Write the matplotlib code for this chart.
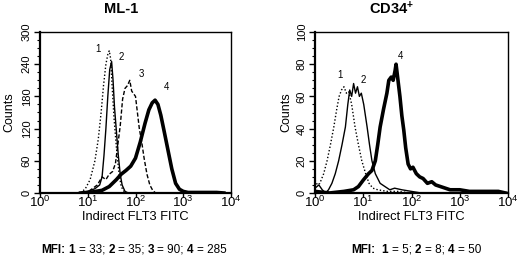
import matplotlib
matplotlib.use("Agg")
import matplotlib.pyplot as plt
from matplotlib.ticker import MultipleLocator, LogLocator, NullLocator
import numpy as np

plt.rcParams['font.family'] = ['Liberation Sans', 'DejaVu Sans']
plt.rcParams['mathtext.fontset'] = 'custom'
plt.rcParams['mathtext.rm'] = 'Liberation Sans'
plt.rcParams['mathtext.bf'] = 'Liberation Sans:bold'
plt.rcParams['mathtext.it'] = 'Liberation Sans:italic'

# ML-1 histograms (x in log10 of FLT3 FITC, y in counts)
ml1_x1 = [0.85, 0.95, 1.05, 1.15, 1.22, 1.28, 1.33, 1.38, 1.42, 1.45, 1.48, 1.51, 1.55, 1.60, 1.65, 1.70, 1.78]
ml1_y1 = [0, 8, 25, 60, 100, 150, 200, 240, 258, 265, 250, 200, 140, 85, 40, 12, 0]
ml1_x2 = [0.85, 1.0, 1.15, 1.25, 1.30, 1.34, 1.38, 1.42, 1.46, 1.50, 1.53, 1.56, 1.60, 1.64, 1.68, 1.72, 1.78, 1.85]
ml1_y2 = [0, 3, 8, 15, 30, 70, 120, 180, 230, 245, 210, 160, 115, 70, 35, 15, 3, 0]
ml1_x3 = [0.9, 1.05, 1.2, 1.3, 1.38, 1.45, 1.52, 1.58, 1.63, 1.68, 1.73, 1.78, 1.83, 1.88, 1.92, 1.96,
          2.0, 2.04, 2.08, 2.13, 2.18, 2.24, 2.30, 2.36, 2.42]
ml1_y3 = [0, 5, 15, 30, 25, 35, 40, 55, 90, 125, 175, 195, 200, 210, 190, 185,
          180, 150, 120, 95, 65, 35, 15, 5, 0]
ml1_x4 = [0.85, 1.1, 1.3, 1.45, 1.6, 1.7, 1.8, 1.9, 2.0, 2.1, 2.2, 2.28, 2.35, 2.41, 2.47, 2.53,
          2.6, 2.68, 2.76, 2.84, 2.92, 3.0, 3.1, 3.3, 3.5, 3.7, 3.85]
ml1_y4 = [0, 2, 5, 12, 25, 35, 42, 50, 65, 95, 130, 155, 168, 173, 165, 145,
          115, 80, 45, 18, 7, 3, 1, 1, 1, 1, 0]

# CD34+ histograms
cd_x1 = [0.0, 0.05, 0.1, 0.18, 0.25, 0.32, 0.39, 0.45, 0.5, 0.55, 0.6, 0.65, 0.7, 0.76, 0.83, 0.9,
         0.97, 1.05, 1.12, 1.2, 1.3, 1.5, 1.7, 2.0]
cd_y1 = [8, 5, 6, 12, 20, 30, 41, 52, 60, 64, 66, 62, 63, 55, 41, 30,
         20, 12, 6, 3, 2, 1, 1, 0]
cd_x2 = [0.0, 0.08, 0.15, 0.22, 0.28, 0.35, 0.42, 0.49, 0.56, 0.63, 0.68, 0.72, 0.76, 0.8, 0.84, 0.88,
         0.92, 0.96, 1.01, 1.05, 1.08, 1.13, 1.18, 1.25, 1.35, 1.45, 1.55, 1.65, 1.8, 2.0, 2.2]
cd_y2 = [3, 5, 2, 0, 2, 6, 12, 20, 30, 41, 55, 64, 60, 68, 62, 66,
         60, 62, 55, 47, 41, 30, 20, 12, 6, 4, 2, 3, 2, 1, 0]
cd_x4 = [0.0, 0.3, 0.6, 0.8, 0.9, 1.0, 1.11, 1.18, 1.25, 1.3, 1.35, 1.42, 1.49, 1.53, 1.58, 1.62,
         1.66, 1.68, 1.72, 1.76, 1.8, 1.84, 1.88, 1.93, 1.98, 2.03, 2.1, 2.17, 2.24, 2.33, 2.42, 2.5,
         2.6, 2.8, 3.0, 3.2, 3.5, 3.8, 3.95]
cd_y4 = [1, 0, 1, 2, 4, 8, 12, 14, 20, 30, 41, 52, 62, 70, 72, 70,
         76, 80, 70, 60, 48, 39, 28, 18, 15, 16, 12, 10, 9, 6, 7, 5,
         4, 2, 2, 1, 1, 1, 0]

# curve number labels (log10 x, counts)
ml1_labels = [("1", 1.22, 268), ("2", 1.71, 254), ("3", 2.12, 222), ("4", 2.65, 198)]
cd_labels = [("1", 0.52, 73), ("2", 1.01, 70), ("4", 1.78, 85)]

# MFI captions: (text, bold)
ml1_mfi = [("MFI: ", True), ("1", True), (" = 33; ", False), ("2", True), (" = 35; ", False),
           ("3", True), (" = 90; ", False), ("4", True), (" = 285", False)]
cd_mfi = [("MFI:  ", True), ("1", True), (" = 5; ", False), ("2", True), (" = 8; ", False),
          ("4", True), (" = 50", False)]

styles = {
    "1": dict(color="black", lw=1.0, ls=(0, (1, 1.5))),
    "2": dict(color="black", lw=1.0, ls="-"),
    "3": dict(color="black", lw=1.0, ls=(0, (3, 1.5))),
    "4": dict(color="black", lw=2.6, ls="-"),
}

fig = plt.figure(figsize=(5.2, 2.59), dpi=100)
ax1 = fig.add_axes([40 / 520, 66 / 259, 191 / 520, 161 / 259])
ax2 = fig.add_axes([315 / 520, 66 / 259, 193 / 520, 161 / 259])


def setup(ax, ymax, major, minor):
    ax.set_xscale("log")
    ax.set_xlim(1, 1e4)
    ax.set_ylim(0, ymax)
    ax.xaxis.set_major_locator(LogLocator(base=10, numticks=5))
    ax.xaxis.set_minor_locator(NullLocator())
    ax.yaxis.set_major_locator(MultipleLocator(major))
    ax.yaxis.set_minor_locator(MultipleLocator(minor))
    ax.tick_params(axis="x", which="major", length=3, width=1, labelsize=9.5, pad=-1.5)
    ax.tick_params(axis="y", which="major", length=4, width=1, labelsize=8, pad=2)
    ax.tick_params(axis="y", which="minor", length=2.5, width=0.8)
    for lab in ax.get_yticklabels():
        lab.set_rotation(90)
        lab.set_va("center")
    for side in ["left", "bottom"]:
        ax.spines[side].set_linewidth(1.6)
    for side in ["top", "right"]:
        ax.spines[side].set_linewidth(1.0)
    ax.set_ylabel("Counts", fontsize=9, va="center")
    ax.set_xlabel("Indirect FLT3 FITC", fontsize=9.3, va="center")
    # label centres measured in pixels below the axis
    ax.xaxis.set_label_coords(0.5, -(216.5 - 193) / 161)


setup(ax1, 300, 60, 15)
setup(ax2, 100, 20, 5)
ax1.yaxis.set_label_coords(-(40 - 9) / 191, 0.5)
ax2.yaxis.set_label_coords(-(315 - 286) / 193, 0.5)

ax1.plot(10 ** np.array(ml1_x1), ml1_y1, **styles["1"])
ax1.plot(10 ** np.array(ml1_x2), ml1_y2, **styles["2"])
ax1.plot(10 ** np.array(ml1_x3), ml1_y3, **styles["3"])
ax1.plot(10 ** np.array(ml1_x4), ml1_y4, **styles["4"])
for t, lx, ly in ml1_labels:
    ax1.text(10 ** lx, ly, t, fontsize=7, ha="center", va="center")

ax2.plot(10 ** np.array(cd_x1), cd_y1, **styles["1"])
ax2.plot(10 ** np.array(cd_x2), cd_y2, **styles["2"])
ax2.plot(10 ** np.array(cd_x4), cd_y4, **styles["4"])
for t, lx, ly in cd_labels:
    ax2.text(10 ** lx, ly, t, fontsize=7, ha="center", va="center")

fig.text(121 / 520, 1 - 9 / 259, "ML-1", fontsize=10.5, fontweight="bold", ha="center", va="center")
fig.text(392 / 520, 1 - 9 / 259, r"CD34$^{\mathbf{+}}$", fontsize=10.5, fontweight="bold", ha="center", va="center")

renderer = fig.canvas.get_renderer()


# width in pixels of a piece of text, spaces included
def text_width(s, bold, size):
    w = "bold" if bold else "normal"
    a = fig.text(0, 0, "x" + s + "x", fontsize=size, fontweight=w)
    b = fig.text(0, 0, "xx", fontsize=size, fontweight=w)
    d = a.get_window_extent(renderer).width - b.get_window_extent(renderer).width
    a.remove()
    b.remove()
    return d


# caption with bold and normal pieces, centred on xc (pixels)
def draw_caption(xc, yc, parts, size):
    total = sum(text_width(s, b, size) for s, b in parts)
    x = xc - total / 2
    for s, b in parts:
        lead = len(s) - len(s.lstrip())
        x_text = x + text_width(s[:lead], b, size) if lead else x
        fig.text(x_text / 520, 1 - yc / 259, s.strip(), fontsize=size,
                 fontweight="bold" if b else "normal", va="center")
        x += text_width(s, b, size)


draw_caption(134, 250, ml1_mfi, 8.5)
draw_caption(416, 250, cd_mfi, 8.5)

fig.savefig("out.png", dpi=100)
